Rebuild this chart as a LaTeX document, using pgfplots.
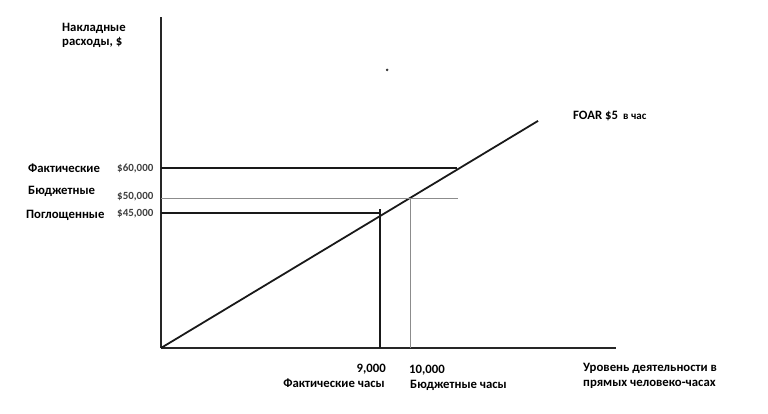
\documentclass[border=0pt]{standalone}
\usepackage{fontspec}
\setmainfont{Carlito}
\usepackage{pgfplots}
\pgfplotsset{compat=1.18}

\begin{document}
\begin{tikzpicture}[
    lab/.style={inner sep=0pt, font=\fontsize{12.8}{14}\selectfont\bfseries},
    val/.style={inner sep=0pt, font=\fontsize{11}{12}\selectfont\bfseries, text=black!75}]
  \useasboundingbox (0bp,0bp) rectangle (768bp,414bp);
  \begin{axis}[
      at={(161bp,66bp)}, anchor=origin,
      width=455bp, height=331bp, scale only axis,
      xmin=0, xmax=18270, ymin=0, ymax=110330,
      axis lines=left,
      axis line style={-, line width=2.2pt, black!85},
      ticks=none,
      clip=false
    ]
    % FOAR line, $5 per hour
    \addplot[black!90, line width=1.8pt] coordinates {(0,0) (15140,75700)};
    % actual overhead
    \addplot[black!90, line width=1.8pt] coordinates {(0,60000) (11880,60000)};
    % budgeted overhead
    \addplot[black!45, line width=0.8pt] coordinates {(0,50000) (11930,50000)};
    \addplot[black!45, line width=0.8pt] coordinates {(10000,50000) (10000,0)};
    % absorbed overhead
    \addplot[black!90, line width=1.8pt] coordinates {(0,45000) (8800,45000)};
    \addplot[black!90, line width=1.8pt] coordinates {(8800,46300) (8800,0)};
    % stray dot
    \addplot[only marks, mark=*, mark size=1.1pt, black!80] coordinates {(9080,92670)};
  \end{axis}

  \node[lab, anchor=base west] at (62bp,382bp) {Накладные};
  \node[lab, anchor=base west] at (62bp,368bp) {расходы, \$};

  \node[lab, anchor=base west] at (28bp,241bp) {Фактические};
  \node[lab, anchor=base west] at (28bp,219bp) {Бюджетные};
  \node[lab, anchor=base west] at (26bp,195bp) {Поглощенные};

  \node[val, anchor=base west] at (117bp,242bp) {\$60,000};
  \node[val, anchor=base west] at (117bp,214bp) {\$50,000};
  \node[val, anchor=base west] at (117bp,197bp) {\$45,000};

  \node[lab, anchor=base east] at (386bp,41bp) {9,000};
  \node[lab, anchor=base east] at (385bp,27bp) {Фактические часы};
  \node[lab, anchor=base west] at (409bp,40bp) {10,000};
  \node[lab, anchor=base west] at (410bp,26bp) {Бюджетные часы};

  \node[lab, anchor=base west] at (583bp,42bp) {Уровень деятельности в};
  \node[lab, anchor=base west] at (583bp,28bp) {прямых человеко-часах};

  \node[lab, anchor=base west] at (573bp,294bp) {FOAR \$5\hspace{0.4em}{\fontsize{11}{12}\selectfont в час}};
\end{tikzpicture}
\end{document}
